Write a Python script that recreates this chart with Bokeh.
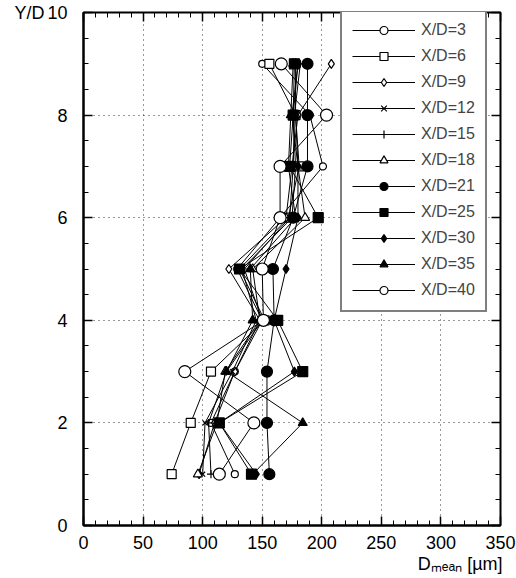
from bokeh.plotting import figure
from bokeh.models import (Range1d, SingleIntervalTicker, LinearAxis, Legend, LegendItem, Title)
from bokeh.embed import file_html
from bokeh.resources import INLINE

# ---- data ----
y_levels = [1, 2, 3, 4, 5, 6, 7, 8, 9]
x_d3 = [127, 107, 127, 150, 129, 165, 201, 190, 150]
x_d6 = [74, 90, 107, 152, 131, 172, 181, 178, 156]
x_d9 = [97, 110, 127, 148, 122, 170, 175, 180, 208]
x_d12 = [100, 102, 125, 145, 133, 175, 178, 176, 180]
x_d15 = [107, 105, 120, 150, 135, 173, 176, 177, 182]
x_d18 = [96, 112, 119, 148, 142, 186, 180, 178, 178]
x_d21 = [156, 154, 154, 160, 159, 176, 188, 188, 188]
x_d25 = [141, 114, 184, 163, 131, 197, 173, 176, 177]
x_d30 = [145, 114, 177, 160, 170, 180, 180, 175, 180]
x_d35 = [142, 184, 120, 142, 140, 178, 172, 174, 176]
x_d40 = [114, 143, 85, 151, 150, 165, 165, 204, 166]

series_labels = ["X/D=3", "X/D=6", "X/D=9", "X/D=12", "X/D=15", "X/D=18",
                 "X/D=21", "X/D=25", "X/D=30", "X/D=35", "X/D=40"]
series_values = [x_d3, x_d6, x_d9, x_d12, x_d15, x_d18, x_d21, x_d25, x_d30, x_d35, x_d40]
# marker, size, filled
styles = [("circle", 7, False), ("square", 9, False), ("diamond", 9, False),
          ("x", 7, False), ("cross", 8, False), ("triangle", 9, False),
          ("circle", 11, True), ("square", 10, True), ("diamond", 9, True),
          ("triangle", 9, True), ("circle", 12, False)]

x_ticks_interval = 50
y_ticks_interval = 2
x_title = "D\u2098\u2091\u2090\u2099 [\u00b5m]"
y_title = "Y/D"

FONT = "Liberation Sans"

p = figure(width=516, height=578, x_range=Range1d(0, 350), y_range=Range1d(0, 10),
           output_backend="svg", toolbar_location=None,
           min_border_left=83, min_border_right=16, min_border_top=12, min_border_bottom=53)
p.outline_line_color = "black"
p.outline_line_width = 2

xt = SingleIntervalTicker(interval=x_ticks_interval, num_minor_ticks=5)
yt = SingleIntervalTicker(interval=y_ticks_interval, num_minor_ticks=4)
p.xaxis.ticker = xt
p.yaxis.ticker = yt

for ax in (p.xaxis[0], p.yaxis[0]):
    ax.major_tick_in = 9
    ax.major_tick_out = 0
    ax.minor_tick_in = 5
    ax.minor_tick_out = 0
    ax.axis_line_width = 2
    ax.major_tick_line_width = 1.5
    ax.major_label_text_font = FONT
    ax.major_label_text_font_size = "18px"
    ax.major_label_text_color = "black"
    ax.axis_label_text_font = FONT
    ax.axis_label_text_font_size = "18px"
    ax.axis_label_text_font_style = "normal"
    ax.axis_label_text_color = "black"

p.xaxis.major_label_standoff = 10
p.yaxis.major_label_standoff = 16

p.yaxis.axis_label = y_title
p.yaxis.axis_label_orientation = "horizontal"
p.yaxis.axis_label_align = "end"
p.yaxis.axis_label_text_baseline = "top"
p.yaxis.axis_label_standoff = 0

p.add_layout(Title(text=x_title, align="right", text_font=FONT, text_font_size="18px",
                   text_font_style="normal", text_color="black", standoff=0, offset=-2),
             "below")

for loc, tk in (("above", xt), ("right", yt)):
    a = LinearAxis(ticker=tk, major_label_text_font_size="0px", major_label_text_color=None,
                   major_label_standoff=0,
                   major_tick_in=9, major_tick_out=0, minor_tick_in=5, minor_tick_out=0,
                   axis_line_color=None, major_tick_line_width=1.5)
    p.add_layout(a, loc)

p.grid.grid_line_color = "#333333"
p.grid.grid_line_dash = "1 4"
p.grid.grid_line_width = 1

items = []
for lab, xs, (mk, sz, filled) in zip(series_labels, series_values, styles):
    ln = p.line(xs, y_levels, line_color="black", line_width=1)
    sc = p.scatter(xs, y_levels, marker=mk, size=sz, line_color="black", line_width=1.2,
                   fill_color="black" if filled else "white")
    items.append(LegendItem(label=lab, renderers=[ln, sc]))

leg = Legend(items=items, location=(257, 213))
leg.border_line_color = "black"
leg.border_line_width = 2
leg.background_fill_color = "white"
leg.background_fill_alpha = 1
leg.label_text_font = FONT
leg.label_text_font_size = "16px"
leg.glyph_width = 63
leg.glyph_height = 20
leg.label_height = 20
leg.label_standoff = 6
leg.spacing = 6
leg.padding = 10
leg.margin = 0
p.add_layout(leg)

open("out.html", "w").write(file_html(p, INLINE))
